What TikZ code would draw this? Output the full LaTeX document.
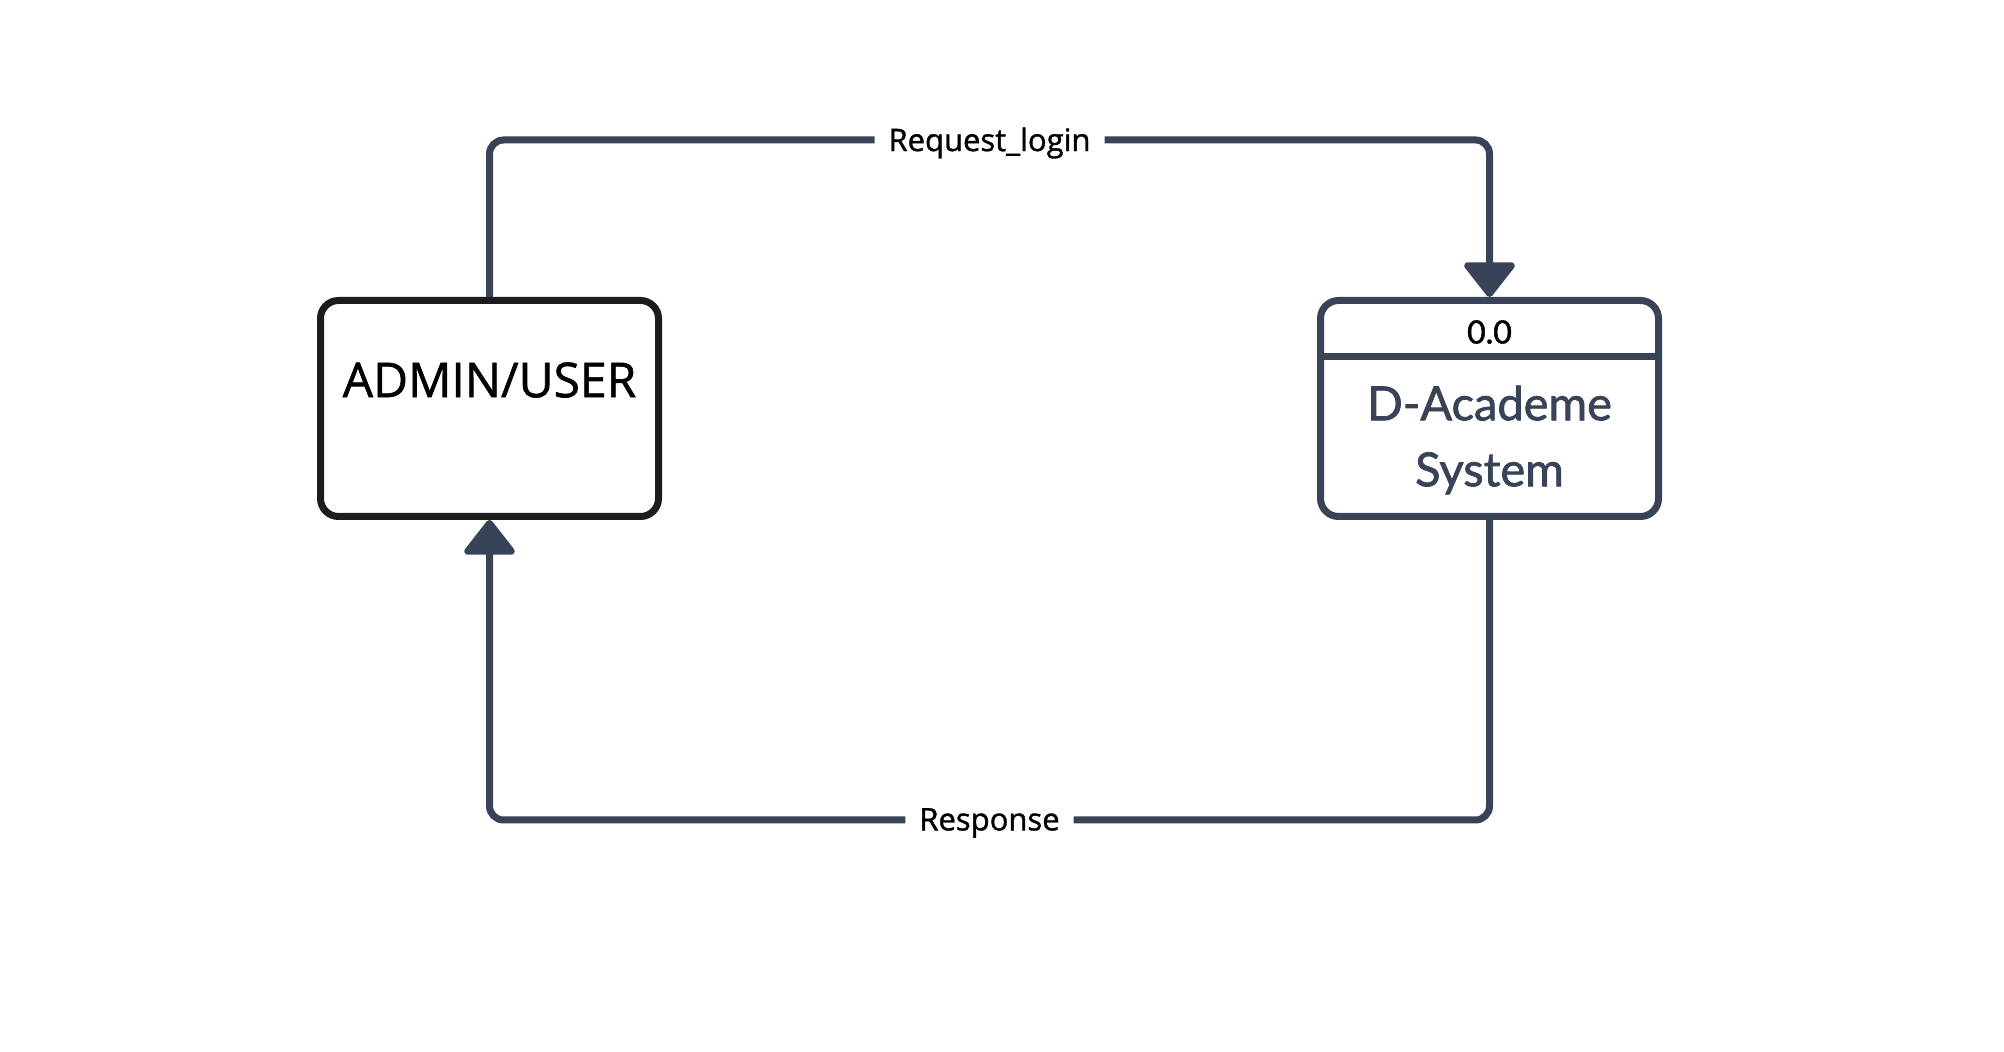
\documentclass[tikz,border=0pt]{standalone}
\usepackage{fontspec}
\setmainfont{Open Sans}[FakeBold=1.2]
\newfontfamily\latofont{Lato}[FakeBold=1.5]
\usepackage{tikz}
\usetikzlibrary{arrows.meta}

\definecolor{slate}{HTML}{384357}
\definecolor{ink}{HTML}{1C1C1C}

\tikzset{
    box/.style = {draw, line width = 3.5pt, rounded corners = 9pt,
        minimum width = 169pt, minimum height = 108pt, inner sep = 0pt},
    flow/.style = {slate, line width = 3.5pt, rounded corners = 7pt,
        -{Triangle[width = 28pt, length = 18.5pt, round]}},
    flowlabel/.style = {fill = white, text = black, inner xsep = 7pt,
        yshift = -1.5pt, font = \fontsize{15.5}{18}\selectfont}
}

\begin{document}
\begin{tikzpicture}[x = 0.5pt, y = -0.5pt]
    \useasboundingbox (0, 0) rectangle (2004, 1052);

    %% entities
    \node[box, ink] (admin) at (489.5, 408.5) {};
    \node[font = \fontsize{24}{28}\selectfont] (admintxt) at (489.5, 380) {ADMIN/USER};

    \node[box, slate] (proc) at (1489.5, 408.5) {};
    \draw[slate, line width = 3.5pt] ([yshift = -29.75pt]proc.north west)
        -- ([yshift = -29.75pt]proc.north east);
    \node[font = \latofont\fontsize{16}{20}\selectfont] (procid) at (1489.5, 332) {0.0};
    \node[slate, align = center, font = \latofont\fontsize{23.5}{33}\selectfont]
        (proctxt) at (1489.5, 440) {D-Academe\\System};

    %% flows
    \coordinate (tl) at (489.5, 140);
    \coordinate (tr) at (1489.5, 140);
    \coordinate (br) at (1489.5, 820);
    \coordinate (bl) at (489.5, 820);

    \draw[flow] (admin.north) -- (tl) -- node[flowlabel] (req) {Request\_login} (tr)
        -- (proc.north);
    \draw[flow] (proc.south) -- (br) -- node[flowlabel] (resp) {Response} (bl)
        -- (admin.south);
\end{tikzpicture}
\end{document}
